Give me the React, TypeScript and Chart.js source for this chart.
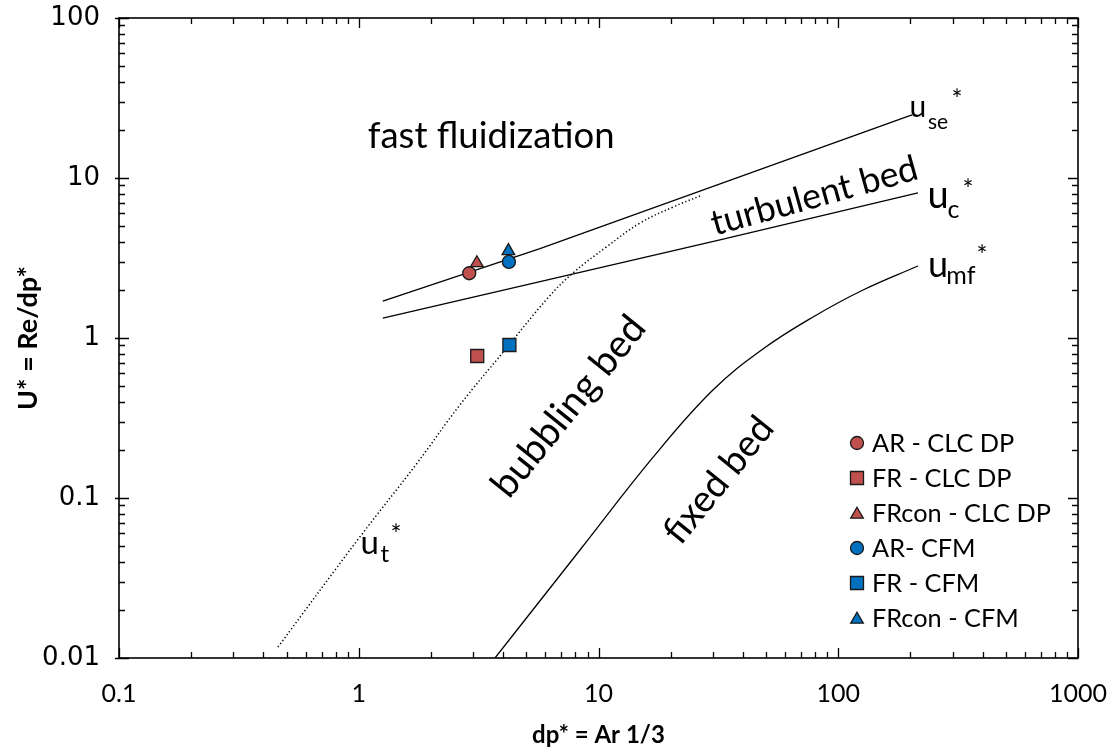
import React, { useEffect, useRef } from "react";
import { Chart, registerables } from "chart.js";

Chart.register(...registerables);

// axis ticks
const xTickValues = [0.1, 1, 10, 100, 1000];
const xTickLabels = ["0.1", "1", "10", "100", "1000"];
const yTickValues = [0.01, 0.1, 1, 10, 100];
const yTickLabels = ["0.01", "0.1", "1", "10", "100"];

// regime boundary curves (dp*, U*)
const useX = [1.26, 5.7, 203];
const useY = [1.7, 3.62, 24.8];
const ucX = [1.26, 32.1, 215];
const ucY = [1.33, 4.1, 8.06];
const umfX = [3.7, 8.37, 16.9, 30.0, 48.5, 78.5, 126.9, 215];
const umfY = [0.01, 0.0473, 0.18, 0.473, 0.853, 1.353, 1.995, 2.818];
const utX = [0.46, 1.01, 1.75, 2.64, 4.07, 6.15, 7.83, 10.8, 14.9, 20.5, 26.5];
const utY = [0.0117, 0.057, 0.165, 0.381, 0.841, 1.78, 2.55, 3.71, 5.23, 6.59, 7.72];

// measured operating points
const arClcX = [2.89];
const arClcY = [2.54];
const frClcX = [3.12];
const frClcY = [0.772];
const frconClcX = [3.11];
const frconClcY = [2.94];
const arCfmX = [4.23];
const arCfmY = [2.99];
const frCfmX = [4.25];
const frCfmY = [0.904];
const frconCfmX = [4.21];
const frconCfmY = [3.5];

const RED = "#C0504D";
const BLUE = "#0070C0";
const EDGE = "#1a1a1a";

const zip = (xs: number[], ys: number[]) => xs.map((x, i) => ({ x, y: ys[i] }));

const legendItems = [
  { label: "AR - CLC DP", color: RED, shape: "circle" },
  { label: "FR - CLC DP", color: RED, shape: "rect" },
  { label: "FRcon - CLC DP", color: RED, shape: "triangle" },
  { label: "AR- CFM", color: BLUE, shape: "circle" },
  { label: "FR - CFM", color: BLUE, shape: "rect" },
  { label: "FRcon - CFM", color: BLUE, shape: "triangle" },
];

function drawInk(ctx: CanvasRenderingContext2D, text: string, cx: number, cy: number) {
  ctx.textAlign = "left";
  ctx.textBaseline = "alphabetic";
  const m = ctx.measureText(text);
  const x = cx - (m.actualBoundingBoxRight - m.actualBoundingBoxLeft) / 2;
  const y = cy - (m.actualBoundingBoxDescent - m.actualBoundingBoxAscent) / 2;
  ctx.fillText(text, x, y);
}

function fitInk(ctx: CanvasRenderingContext2D, text: string, weight: string, family: string, width: number) {
  ctx.font = `${weight} 100px ${family}`;
  const m = ctx.measureText(text);
  const w = m.actualBoundingBoxLeft + m.actualBoundingBoxRight;
  return (100 * width) / w;
}

function drawMarker(ctx: CanvasRenderingContext2D, shape: string, x: number, y: number, color: string) {
  ctx.beginPath();
  if (shape === "circle") {
    ctx.arc(x, y, 6.5, 0, Math.PI * 2);
  } else if (shape === "rect") {
    ctx.rect(x - 6.5, y - 6.5, 13, 13);
  } else {
    const r = 7.3;
    for (let k = 0; k < 3; k++) {
      const a = -Math.PI / 2 + (k * 2 * Math.PI) / 3;
      const px = x + Math.cos(a) * r;
      const py = y + Math.sin(a) * r + 1.5;
      if (k === 0) ctx.moveTo(px, py);
      else ctx.lineTo(px, py);
    }
    ctx.closePath();
  }
  ctx.fillStyle = color;
  ctx.fill();
  ctx.lineWidth = 1.3;
  ctx.strokeStyle = EDGE;
  ctx.stroke();
}

const framePlugin = {
  id: "frameTicks",
  afterDraw(chart: any) {
    const { ctx, chartArea } = chart;
    const { left, right, top, bottom } = chartArea;
    const xs = chart.scales.x;
    const ys = chart.scales.y;
    ctx.save();
    ctx.strokeStyle = "#000";
    ctx.lineWidth = 1.6;
    ctx.strokeRect(left, top, right - left, bottom - top);
    ctx.lineWidth = 1.3;
    ctx.beginPath();
    for (let d = -1; d < 3; d++) {
      for (let k = 1; k <= 10; k++) {
        const v = k * Math.pow(10, d);
        const px = Math.round(xs.getPixelForValue(v)) + 0.5;
        const len = k === 1 || k === 10 ? 10 : 6;
        ctx.moveTo(px, bottom);
        ctx.lineTo(px, bottom - len);
        ctx.moveTo(px, top);
        ctx.lineTo(px, top + len);
      }
    }
    for (let d = -2; d < 2; d++) {
      for (let k = 1; k <= 10; k++) {
        const v = k * Math.pow(10, d);
        const py = Math.round(ys.getPixelForValue(v)) + 0.5;
        const len = k === 1 || k === 10 ? 10 : 6;
        ctx.moveTo(left - (len === 10 ? 4 : 0), py);
        ctx.lineTo(left + len, py);
        ctx.moveTo(right, py);
        ctx.lineTo(right - len, py);
      }
    }
    ctx.stroke();
    ctx.restore();
  },
};

const textPlugin = {
  id: "regimeText",
  afterDraw(chart: any) {
    const ctx: CanvasRenderingContext2D = chart.ctx;
    const FAM = "Lato";
    ctx.save();
    ctx.fillStyle = "#000";

    // region labels
    const s = fitInk(ctx, "fast fluidization", "normal", FAM, 244);
    ctx.font = `${s}px ${FAM}`;
    drawInk(ctx, "fast fluidization", 490, 134);

    const rotated = (text: string, cx: number, cy: number, deg: number, w: number) => {
      const fs = fitInk(ctx, text, "normal", FAM, w);
      ctx.save();
      ctx.translate(cx, cy);
      ctx.rotate((deg * Math.PI) / 180);
      ctx.font = `${fs}px ${FAM}`;
      drawInk(ctx, text, 0, 0);
      ctx.restore();
    };
    rotated("turbulent bed", 813, 195, -15.5, 210);
    rotated("bubbling bed", 570, 408, -51, 215);
    rotated("fixed bed", 717, 480, -51, 148);

    // curve labels
    const piece = (t: string, size: number, cx: number, cy: number) => {
      ctx.font = `${size}px ${FAM}`;
      drawInk(ctx, t, cx, cy);
    };
    piece("u", 30, 917.5, 109);
    piece("se", 21, 938, 123);
    piece("*", 26, 957, 92);

    piece("u", 38, 938, 197.5);
    piece("c", 25, 954, 211.5);
    piece("*", 26, 968, 182);

    piece("u", 36, 938, 267.5);
    piece("mf", 25, 961.5, 274.5);
    piece("*", 26, 982, 248);

    piece("u", 33, 370, 545);
    piece("t", 24, 385, 554);
    piece("*", 26, 396, 527);

    // legend
    const ls = fitInk(ctx, "FRcon - CLC DP", "normal", FAM, 176);
    legendItems.forEach((it, i) => {
      const y = 443 + i * 35;
      drawMarker(ctx, it.shape, 857, y, it.color);
      ctx.fillStyle = "#000";
      ctx.font = `${ls}px ${FAM}`;
      ctx.textAlign = "left";
      ctx.textBaseline = "alphabetic";
      const m = ctx.measureText("A");
      const cap = m.actualBoundingBoxAscent;
      ctx.fillText(it.label, 872, y + cap / 2);
    });
    ctx.restore();
  },
};

export default function App() {
  const ref = useRef<HTMLCanvasElement | null>(null);
  useEffect(() => {
    document.body.style.margin = "0";
    const canvas = ref.current!;
    const pointDs = (label: string, xs: number[], ys: number[], color: string, style: string, r: number) => ({
      label,
      data: zip(xs, ys),
      showLine: false,
      pointStyle: style,
      pointRadius: r,
      pointHoverRadius: r,
      backgroundColor: color,
      borderColor: EDGE,
      pointBorderWidth: 1.3,
      borderWidth: 1.3,
    });
    const lineDs = (label: string, xs: number[], ys: number[], dash: number[], tension: number) => ({
      label,
      data: zip(xs, ys),
      showLine: true,
      pointRadius: 0,
      borderColor: "#000",
      borderWidth: dash.length ? 1.5 : 1.3,
      borderDash: dash,
      fill: false,
      tension,
    });
    const chart = new Chart(canvas, {
      type: "scatter",
      data: {
        datasets: [
          pointDs("FRcon - CFM", frconCfmX, frconCfmY, BLUE, "triangle", 7.3),
          pointDs("FRcon - CLC DP", frconClcX, frconClcY, RED, "triangle", 7.3),
          pointDs("FR - CFM", frCfmX, frCfmY, BLUE, "rect", 9.2),
          pointDs("FR - CLC DP", frClcX, frClcY, RED, "rect", 9.2),
          pointDs("AR- CFM", arCfmX, arCfmY, BLUE, "circle", 6.5),
          pointDs("AR - CLC DP", arClcX, arClcY, RED, "circle", 6.5),
          lineDs("use", useX, useY, [], 0),
          lineDs("uc", ucX, ucY, [], 0),
          lineDs("umf", umfX, umfY, [], 0.4),
          lineDs("ut", utX, utY, [1.3, 2.4], 0.4),
        ] as any,
      },
      options: {
        animation: false,
        responsive: false,
        devicePixelRatio: 1,
        layout: { padding: { top: 18, right: 35, left: 0, bottom: 0 } },
        plugins: { legend: { display: false }, tooltip: { enabled: false } },
        scales: {
          x: {
            type: "logarithmic",
            min: 0.1,
            max: 1000,
            grid: { display: false, drawTicks: false },
            border: { display: false },
            afterBuildTicks: (scale: any) => {
              scale.ticks = xTickValues.map((v) => ({ value: v }));
            },
            afterFit: (scale: any) => {
              scale.height = 95;
              scale.paddingLeft = 0;
              scale.paddingRight = 0;
            },
            ticks: {
              autoSkip: false,
              maxRotation: 0,
              padding: 21,
              color: "#000",
              font: { family: "Lato", size: 25 },
              callback: (_v: any, i: number) => xTickLabels[i],
            },
            title: {
              display: true,
              text: "dp* = Ar 1/3",
              color: "#000",
              font: { family: "Lato", size: 24, weight: "bold" },
              padding: { top: 0, bottom: 3 },
            },
          },
          y: {
            type: "logarithmic",
            min: 0.01,
            max: 100,
            grid: { display: false, drawTicks: false },
            border: { display: false },
            afterBuildTicks: (scale: any) => {
              scale.ticks = yTickValues.map((v) => ({ value: v }));
            },
            afterFit: (scale: any) => {
              scale.width = 119;
              scale.paddingTop = 0;
              scale.paddingBottom = 0;
            },
            ticks: {
              autoSkip: false,
              padding: 19,
              color: "#000",
              font: { family: "DejaVu Sans", size: 26 },
              callback: (_v: any, i: number) => yTickLabels[i],
            },
            title: {
              display: true,
              text: "U* = Re/dp*",
              color: "#000",
              font: { family: "Lato", size: 27, weight: "bold" },
              padding: { top: 12, bottom: 0 },
            },
          },
        },
      } as any,
      plugins: [framePlugin, textPlugin],
    });
    return () => chart.destroy();
  }, []);
  return (
    <canvas
      ref={ref}
      width={1113}
      height={753}
      style={{ position: "absolute", left: 0, top: 0, display: "block", width: 1113, height: 753 }}
    />
  );
}
